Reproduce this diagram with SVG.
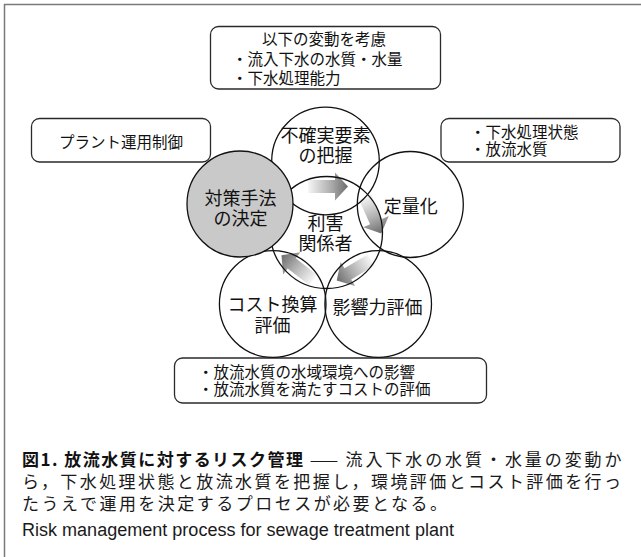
<svg xmlns="http://www.w3.org/2000/svg" width="641" height="557" viewBox="0 0 641 557">
<defs>
<linearGradient id="ag" x1="0" y1="0" x2="1" y2="0">
<stop offset="0" stop-color="#f6f6f6"/>
<stop offset="0.55" stop-color="#b0b0b0"/>
<stop offset="1" stop-color="#6c6c6c"/>
</linearGradient>
<path id="arr" d="M0,-6.5 H27 V-14 L40,0 L27,14 V6.5 H0 Z" fill="url(#ag)"/>
</defs>
<style>
.box{fill:#fff;stroke:#2a2a2a;stroke-width:1.3}
.cir{fill:none;stroke:#111;stroke-width:1.3}
.gray{fill:#c9c9c9;stroke:#111;stroke-width:1.3}
.t{font-family:"Noto Sans CJK JP","Liberation Sans",sans-serif;fill:#111}
.bt{font-size:15.5px}
.ct{font-size:18px;text-anchor:middle}
.cap{font-family:"Noto Sans CJK JP","Liberation Serif",serif;font-size:17px;fill:#1a1a1a}
.capb{font-family:"Noto Sans CJK JP","Liberation Sans",sans-serif;font-size:17px;font-weight:bold;fill:#111}
.en{font-family:"Liberation Sans",sans-serif;font-size:18px;fill:#1a1a1a}
</style>
<rect width="641" height="557" fill="#fff"/>
<path d="M4.5,557 V4.5 H641" fill="none" stroke="#7a7a7a" stroke-width="1.5"/>

<g id="box-top">
<rect class="box" x="210.5" y="26.5" width="230" height="62.5" rx="8"/>
<text class="t bt"><tspan x="324" y="45" text-anchor="middle">以下の変動を考慮</tspan><tspan x="232" y="64.5">・流入下水の水質・水量</tspan><tspan x="232" y="84">・下水処理能力</tspan></text>
</g>
<g id="box-left">
<rect class="box" x="31.5" y="118.5" width="179" height="43.5" rx="8"/>
<text class="t bt" x="121" y="147.5" text-anchor="middle">プラント運用制御</text>
</g>
<g id="box-right">
<rect class="box" x="441" y="118.5" width="179" height="43.5" rx="8"/>
<text class="t bt"><tspan x="470" y="137.5">・下水処理状態</tspan><tspan x="470" y="154.7">・放流水質</tspan></text>
</g>
<g id="box-bottom">
<rect class="box" x="174.5" y="358" width="312" height="45" rx="8"/>
<text class="t bt"><tspan x="198" y="378">・放流水質の水域環境への影響</tspan><tspan x="198" y="395">・放流水質を満たすコストの評価</tspan></text>
</g>

<g id="connectors">
<use href="#arr" transform="translate(308,186.5)"/>
<use href="#arr" transform="translate(365,197) rotate(66)"/>
<use href="#arr" transform="translate(371,260) rotate(149)"/>
<use href="#arr" transform="translate(313,280) rotate(218)"/>
</g>

<g id="node-center">
<circle class="cir" cx="326.5" cy="232.5" r="56"/>
<text class="t ct"><tspan x="325.5" y="230">利害</tspan><tspan x="325.5" y="250">関係者</tspan></text>
</g>
<g id="node-uncertainty">
<circle class="cir" cx="325.5" cy="161" r="53.8"/>
<text class="t ct"><tspan x="325.5" y="142">不確実要素</tspan><tspan x="325.5" y="162">の把握</tspan></text>
</g>
<g id="node-quantify">
<circle class="cir" cx="410.3" cy="204.5" r="53"/>
<text class="t ct" x="410.8" y="213">定量化</text>
</g>
<g id="node-impact">
<circle class="cir" cx="378.2" cy="304" r="53.3"/>
<text class="t ct" x="377.5" y="313.5">影響力評価</text>
</g>
<g id="node-cost">
<circle class="cir" cx="272.7" cy="304" r="53.3"/>
<text class="t ct"><tspan x="272.5" y="311">コスト換算</tspan><tspan x="272.5" y="332">評価</tspan></text>
</g>
<g id="node-decision">
<circle class="gray" cx="240" cy="204" r="53"/>
<text class="t ct"><tspan x="240.5" y="205">対策手法</tspan><tspan x="240.5" y="225">の決定</tspan></text>
</g>

<g id="caption">
<text class="capb" x="22" y="466" textLength="281" lengthAdjust="spacing">図1. 放流水質に対するリスク管理</text>
<text class="cap" x="309" y="466" textLength="30" lengthAdjust="spacingAndGlyphs">—</text>
<text class="cap" x="345.5" y="466" textLength="276" lengthAdjust="spacing">流入下水の水質・水量の変動か</text>
<text class="cap" x="22" y="487.5" textLength="599" lengthAdjust="spacing">ら，下水処理状態と放流水質を把握し，環境評価とコスト評価を行っ</text>
<text class="cap" x="22" y="509.5" textLength="425" lengthAdjust="spacing">たうえで運用を決定するプロセスが必要となる。</text>
<text class="en" x="22" y="536" textLength="432" lengthAdjust="spacingAndGlyphs">Risk management process for sewage treatment plant</text>
</g>
</svg>
